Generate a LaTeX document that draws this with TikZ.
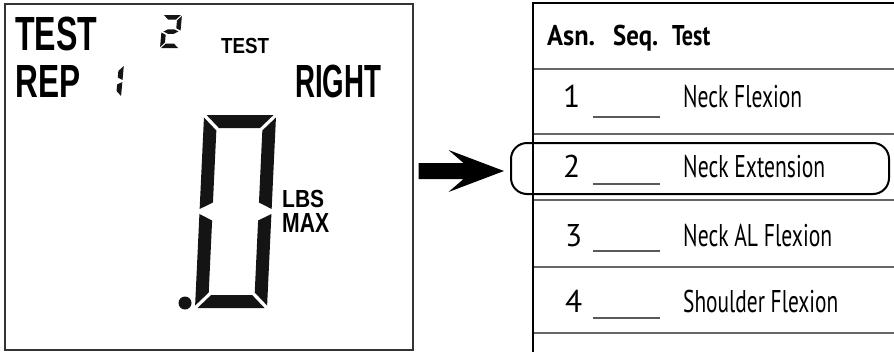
\documentclass[tikz,border=0pt]{standalone}
\usepackage{fontspec}
\usepackage{graphicx}
\newfontfamily\lcdfont{Liberation Sans}
\newfontfamily\tabfont{PT Sans}
\usetikzlibrary{calc}
\newcommand\fitbox[3]{\resizebox{#1}{#2}{\raisebox{0pt}[\fontcharht\font`H][0pt]{#3}}}
% seven-segment pieces (local frame: origin bottom-left, y grows downward)
\newcommand\segA{\fill[seg] (\sg,-\sH) -- ({\sW-\sg},-\sH) -- ({\sW-\st-\sg},{-\sH+\st}) -- ({\st+\sg},{-\sH+\st}) -- cycle;}
\newcommand\segF{\fill[seg] (0,{-\sH+\sg}) -- (\st,{-\sH+\st+\sg}) -- (\st,{-\sH/2-\st/2-\sg}) -- (0,{-\sH/2-\sg}) -- cycle;}
\newcommand\segB{\fill[seg] (\sW,{-\sH+\sg}) -- ({\sW-\st},{-\sH+\st+\sg}) -- ({\sW-\st},{-\sH/2-\st/2-\sg}) -- (\sW,{-\sH/2-\sg}) -- cycle;}
\newcommand\segE{\fill[seg] (0,{-\sH/2+\sg}) -- (\st,{-\sH/2+\st/2+\sg}) -- (\st,{-\st-\sg}) -- (0,{-\sg}) -- cycle;}
\newcommand\segC{\fill[seg] (\sW,{-\sH/2+\sg}) -- ({\sW-\st},{-\sH/2+\st/2+\sg}) -- ({\sW-\st},{-\st-\sg}) -- (\sW,{-\sg}) -- cycle;}
\newcommand\segD{\fill[seg] (\sg,0) -- ({\sW-\sg},0) -- ({\sW-\st-\sg},{-\st}) -- ({\st+\sg},{-\st}) -- cycle;}
\newcommand\segG{\fill[seg] ({2*\sg},{-\sH/2}) -- ({\st+2*\sg},{-\sH/2-\st/2}) -- ({\sW-\st-2*\sg},{-\sH/2-\st/2}) -- ({\sW-2*\sg},{-\sH/2}) -- ({\sW-\st-2*\sg},{-\sH/2+\st/2}) -- ({\st+2*\sg},{-\sH/2+\st/2}) -- cycle;}
\begin{document}
\begin{tikzpicture}[x=1pt,y=-1pt,
  lcdtxt/.style={inner sep=0pt,anchor=north west,font=\lcdfont\bfseries},
  tabtxt/.style={inner sep=0pt,anchor=north west,font=\tabfont},
  seg/.style={fill=black!92},
  rowline/.style={draw=black!60,line width=1.8pt},
  blank/.style={draw=black!65,line width=1.3pt}]
\useasboundingbox (0,0) rectangle (894,351);
\fill[white] (0,0) rectangle (894,351);
% LCD panel
\node[draw=black!80,line width=1.5pt,minimum width=408pt,minimum height=346pt,
      anchor=north west,inner sep=0pt] (lcd) at (4,3) {};
\node[lcdtxt] (ltest) at (15,17) {\fitbox{82pt}{33pt}{TEST}};
\node[lcdtxt] (lrep) at (15,65) {\fitbox{65pt}{32pt}{REP}};
\node[lcdtxt] (lstest) at (221,38) {\fitbox{48pt}{15pt}{TEST}};
\node[lcdtxt] (lright) at (295,65) {\fitbox{86pt}{32pt}{RIGHT}};
\node[lcdtxt] (llbs) at (282,190) {\fitbox{42pt}{17pt}{LBS}};
\node[lcdtxt] (lmax) at (282,213) {\fitbox{47pt}{19pt}{MAX}};
% small digit 2
\begin{scope}[shift={(160,48)},xslant=0.09]
  \def\sW{19}\def\sH{33}\def\st{4.5}\def\sg{1}
  \segA\segB\segG\segE\segD
\end{scope}
% small digit 1 (REP)
\begin{scope}[shift={(110,97)},xslant=0.09]
  \def\sW{11}\def\sH{32}\def\st{5}\def\sg{1}
  \segB\segC
\end{scope}
% big digit 0
\begin{scope}[shift={(195,308)},xslant=0.047]
  \def\sW{72}\def\sH{193}\def\st{13}\def\sg{2.5}
  \segA\segB\segC\segD\segE\segF
\end{scope}
\fill[black!92] (185,303) circle (6.5pt);
% table
\foreach \y in {69,134,200,267,333} \draw[rowline] (533,\y) -- (896,\y);
\draw[line width=2.4pt] (896,3) -- (533,3) -- (533,353);
\node[tabtxt,font=\tabfont\bfseries] (hasn) at (547,25) {\fitbox{48pt}{20pt}{Asn.}};
\node[tabtxt,font=\tabfont\bfseries] (hseq) at (613,25) {\fitbox{45pt}{20pt}{Seq.}};
\node[tabtxt,font=\tabfont\bfseries] (htest) at (672,25) {\fitbox{38pt}{20pt}{Test}};
\node[tabtxt] (n1) at (563,85) {\fitbox{!}{22pt}{1}};
\node[tabtxt] (r1) at (683,85) {\fitbox{119pt}{22pt}{Neck Flexion}};
\draw[blank] (593,117) -- (660,117);
\node[tabtxt] (n2) at (563,155) {\fitbox{!}{22pt}{2}};
\node[tabtxt] (r2) at (683,155) {\fitbox{142pt}{22pt}{Neck Extension}};
\draw[blank] (593,184) -- (660,184);
\node[tabtxt] (n3) at (565,224) {\fitbox{!}{22pt}{3}};
\node[tabtxt] (r3) at (683,224) {\fitbox{149pt}{22pt}{Neck AL Flexion}};
\draw[blank] (593,251) -- (660,251);
\node[tabtxt] (n4) at (565,290) {\fitbox{!}{22pt}{4}};
\node[tabtxt] (r4) at (683,290) {\fitbox{155pt}{22pt}{Shoulder Flexion}};
\draw[blank] (593,318) -- (660,318);
% highlight
\node[draw,line width=2pt,rounded corners=16pt,minimum width=378pt,minimum height=51pt,
      anchor=north west,inner sep=0pt] (hl) at (510,142) {};
% arrow
\coordinate (aS) at ($(lcd.east |- hl.west)+(5,2.5)$);
\coordinate (aE) at ($(hl.west)+(-6,2.5)$);
\fill ($(aS)+(0,-8)$) -- ($(aS)+(45,-8)$) -- ($(aS)+(30,-21)$) -- (aE)
      -- ($(aS)+(30,21)$) -- ($(aS)+(45,8)$) -- ($(aS)+(0,8)$) -- cycle;
\end{tikzpicture}
\end{document}
